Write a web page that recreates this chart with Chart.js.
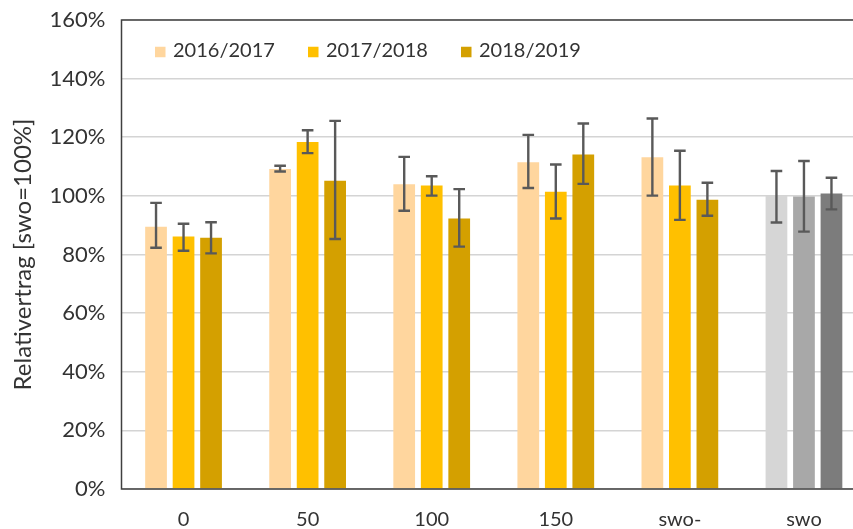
<!DOCTYPE html>
<html>
<head>
<meta charset="utf-8">
<script src="https://cdn.jsdelivr.net/npm/chart.js@4/dist/chart.umd.min.js"></script>
<style>
html,body{margin:0;padding:0;background:#fff;overflow:hidden;}
#wrap{position:absolute;left:0;top:0;width:868px;height:529px;}
</style>
</head>
<body>
<div id="wrap"><canvas id="c" width="868" height="529"></canvas></div>
<script>
const categories = ["0", "50", "100", "150", "swo-", "swo"];
const seriesNames = ["2016/2017", "2017/2018", "2018/2019"];

const values2016 = [89.5, 109.2, 104.0, 111.5, 113.2, 100.0];
const values2017 = [86.1, 118.4, 103.5, 101.4, 103.5, 99.8];
const values2018 = [85.7, 105.2, 92.3, 114.1, 98.7, 100.8];

const errHigh2016 = [97.6, 110.3, 113.3, 120.8, 126.4, 108.5];
const errLow2016  = [82.3, 108.3, 94.9, 102.7, 100.1, 90.9];
const errHigh2017 = [90.5, 122.4, 106.7, 110.7, 115.4, 111.9];
const errLow2017  = [81.3, 114.6, 100.1, 92.3, 91.8, 87.8];
const errHigh2018 = [91.0, 125.6, 102.3, 124.7, 104.5, 106.2];
const errLow2018  = [80.4, 85.3, 82.7, 104.1, 93.2, 95.4];

const yTicks = [0, 20, 40, 60, 80, 100, 120, 140, 160];

const seriesColors = ["#FFD69E", "#FFC000", "#D4A000"];
const swoColors = ["#D6D6D6", "#A8A8A8", "#7C7C7C"];

function colorsFor(i) {
  return categories.map(c => c === "swo" ? swoColors[i] : seriesColors[i]);
}

const allValues = [values2016, values2017, values2018];
const allHigh = [errHigh2016, errHigh2017, errHigh2018];
const allLow = [errLow2016, errLow2017, errLow2018];

const FONT = "Lato";

const errorBarPlugin = {
  id: "errorBars",
  afterDatasetsDraw(chart) {
    const ctx = chart.ctx;
    const y = chart.scales.y;
    ctx.save();
    ctx.strokeStyle = "#595959";
    ctx.lineWidth = 2.4;
    chart.data.datasets.forEach((ds, i) => {
      const meta = chart.getDatasetMeta(i);
      meta.data.forEach((el, j) => {
        const x = el.x;
        const yh = y.getPixelForValue(allHigh[i][j]);
        const yl = y.getPixelForValue(allLow[i][j]);
        const cw = 5.8;
        ctx.beginPath();
        ctx.moveTo(x, yh); ctx.lineTo(x, yl);
        ctx.moveTo(x - cw, yh); ctx.lineTo(x + cw, yh);
        ctx.moveTo(x - cw, yl); ctx.lineTo(x + cw, yl);
        ctx.stroke();
      });
    });
    ctx.restore();
  }
};

const framePlugin = {
  id: "frame",
  afterDraw(chart) {
    const a = chart.chartArea;
    const ctx = chart.ctx;
    ctx.save();
    ctx.strokeStyle = "#404040";
    ctx.lineWidth = 1.5;
    ctx.strokeRect(a.left, a.top, a.right - a.left, a.bottom - a.top);
    ctx.restore();
  }
};

const legendPlugin = {
  id: "innerLegend",
  afterDraw(chart) {
    const ctx = chart.ctx;
    ctx.save();
    ctx.font = "20px " + FONT;
    ctx.textBaseline = "middle";
    ctx.textAlign = "left";
    const startX = 155, pitch = 153, cy = 50.5, sq = 10.5;
    seriesNames.forEach((n, i) => {
      const x = startX + i * pitch;
      ctx.fillStyle = seriesColors[i];
      ctx.fillRect(x, cy - sq / 2 + 1.5, sq, sq);
      ctx.fillStyle = "#333333";
      ctx.fillText(n, x + 18, cy);
    });
    ctx.restore();
  }
};

new Chart(document.getElementById("c"), {
  type: "bar",
  data: {
    labels: categories,
    datasets: seriesNames.map((n, i) => ({
      label: n,
      data: allValues[i],
      backgroundColor: colorsFor(i),
      borderWidth: 0,
      categoryPercentage: 0.665,
      barPercentage: 0.79
    }))
  },
  options: {
    responsive: false,
    animation: false,
    devicePixelRatio: 1,
    layout: { padding: { top: 20, right: 2, left: 0, bottom: 0 } },
    plugins: { legend: { display: false }, tooltip: { enabled: false } },
    scales: {
      x: {
        grid: { display: false },
        border: { display: false },
        ticks: { color: "#333333", font: { family: FONT, size: 20 }, padding: 11, maxRotation: 0 },
        afterFit(s) { s.height = 40; }
      },
      y: {
        min: 0, max: 160,
        afterBuildTicks(s) { s.ticks = yTicks.map(v => ({ value: v })); },
        grid: { color: "#D4D4D4", lineWidth: 1.6, drawTicks: false },
        border: { display: false },
        ticks: {
          color: "#333333", font: { family: FONT, size: 22 }, padding: 16,
          callback: v => v + "%"
        },
        title: {
          display: true, text: "Relativertrag [swo=100%]",
          color: "#333333", font: { family: FONT, size: 24, lineHeight: 1.2 }, padding: { top: 9, bottom: 4 }
        },
        afterFit(s) { s.width = 121.5; s.paddingTop = 0; s.paddingBottom = 0; }
      }
    }
  },
  plugins: [errorBarPlugin, framePlugin, legendPlugin]
});
</script>
</body>
</html>
